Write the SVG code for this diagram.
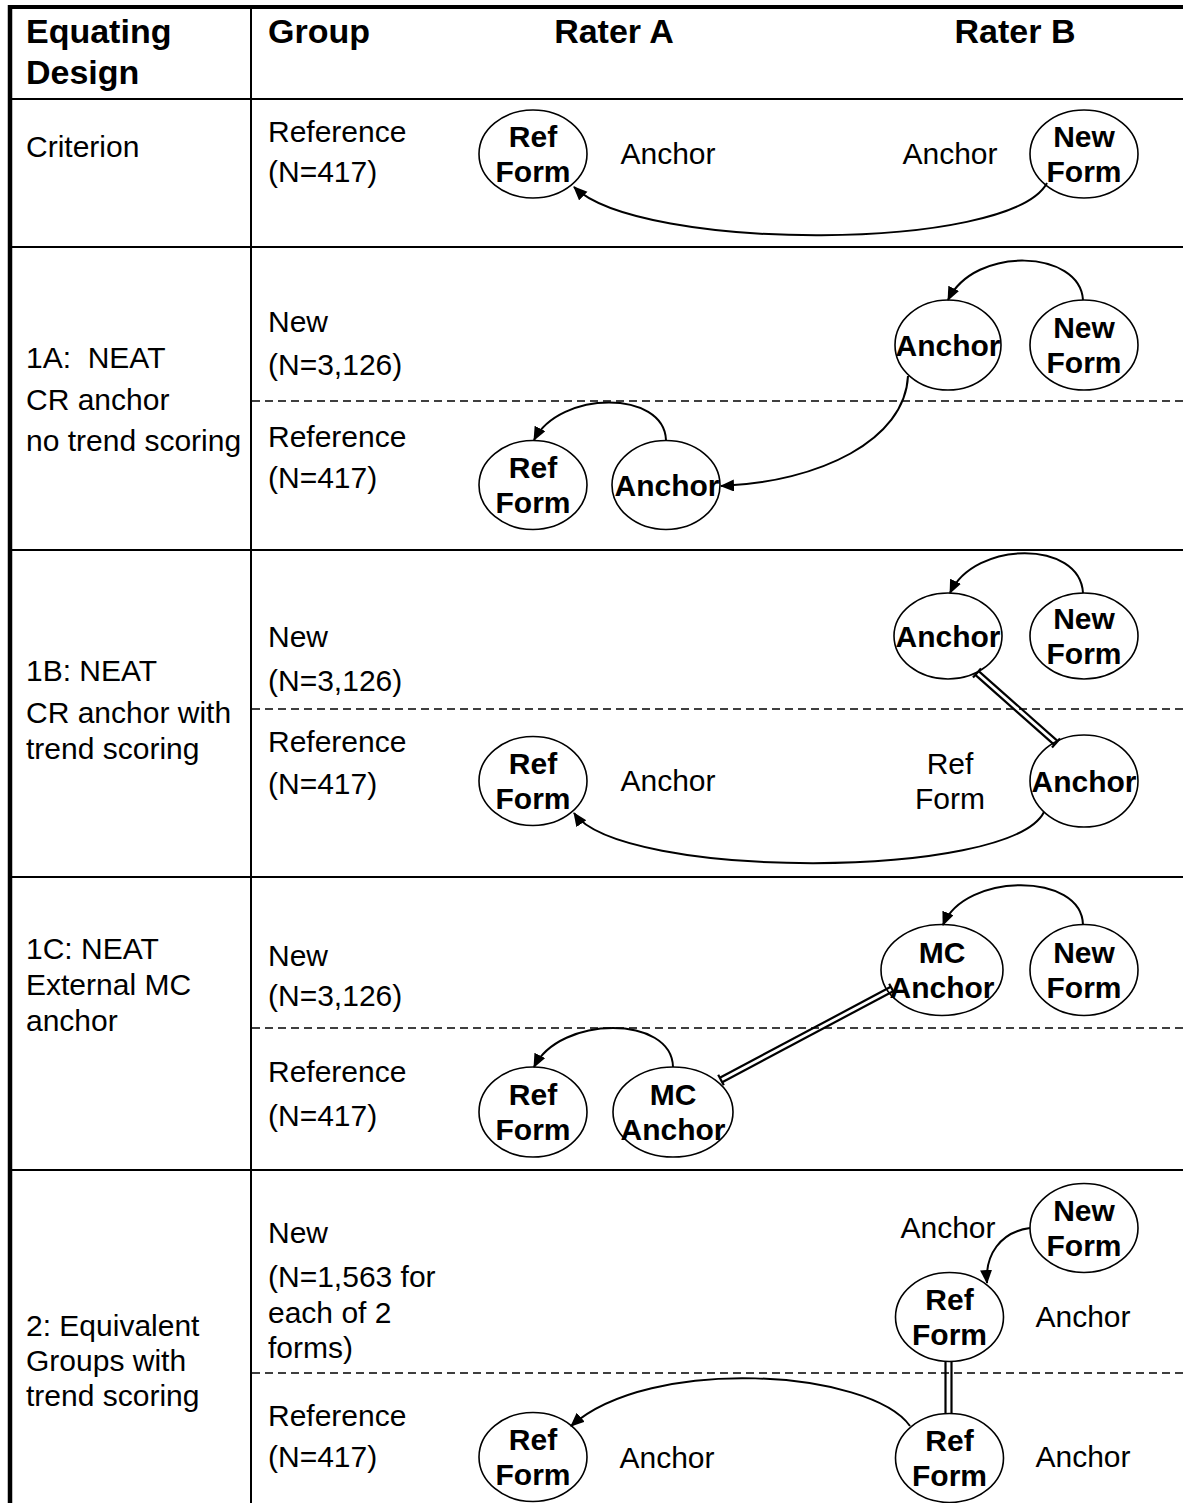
<svg xmlns="http://www.w3.org/2000/svg" width="1183" height="1503" viewBox="0 0 1183 1503">
<style>
text{font-family:"Liberation Sans",Arial,sans-serif;fill:#000}
.h{font-size:34px;font-weight:bold}
.t{font-size:30px}
.b{font-size:30px;font-weight:bold;text-anchor:middle}
.m{text-anchor:middle}
.grid{stroke:#000;stroke-width:2;fill:none}
.dash{stroke:#000;stroke-width:1.5;stroke-dasharray:8 5;fill:none}
ellipse{fill:#fff;stroke:#000;stroke-width:1.6}
.c{fill:none;stroke:#000;stroke-width:2}
.dbl{stroke:#000;stroke-width:2.2;fill:none}
</style>
<defs>
<marker id="ah" markerUnits="userSpaceOnUse" markerWidth="16" markerHeight="14" refX="13" refY="6" orient="auto">
<path d="M0,0 L14,6 L0,12 z" fill="#000"/>
</marker>
</defs>
<rect width="1183" height="1503" fill="#fff"/>
<g id="table">
<line x1="8" y1="7" x2="1183" y2="7" stroke="#000" stroke-width="4"/>
<line x1="10" y1="5" x2="10" y2="1503" stroke="#000" stroke-width="4.5"/>
<line class="grid" x1="251" y1="7" x2="251" y2="1503"/>
<line class="grid" x1="10" y1="99" x2="1183" y2="99"/>
<line class="grid" x1="10" y1="247" x2="1183" y2="247"/>
<line class="grid" x1="10" y1="550" x2="1183" y2="550"/>
<line class="grid" x1="10" y1="877" x2="1183" y2="877"/>
<line class="grid" x1="10" y1="1170" x2="1183" y2="1170"/>
<line class="dash" x1="252" y1="401" x2="1183" y2="401"/>
<line class="dash" x1="252" y1="709" x2="1183" y2="709"/>
<line class="dash" x1="252" y1="1028" x2="1183" y2="1028"/>
<line class="dash" x1="252" y1="1373" x2="1183" y2="1373"/>
</g>
<g id="header">
<text class="h" x="26" y="43">Equating</text>
<text class="h" x="26" y="84">Design</text>
<text class="h" x="268" y="43">Group</text>
<text class="h m" x="614" y="43">Rater A</text>
<text class="h m" x="1015" y="43">Rater B</text>
</g>
<g id="labels">
<text class="t" x="26" y="157">Criterion</text>
<text class="t" x="268" y="142">Reference</text>
<text class="t" x="268" y="182">(N=417)</text>
<text class="t" x="26" y="368">1A:&#160; NEAT</text>
<text class="t" x="26" y="410">CR anchor</text>
<text class="t" x="26" y="451">no trend scoring</text>
<text class="t" x="268" y="332">New</text>
<text class="t" x="268" y="375">(N=3,126)</text>
<text class="t" x="268" y="447">Reference</text>
<text class="t" x="268" y="488">(N=417)</text>
<text class="t" x="26" y="681">1B: NEAT</text>
<text class="t" x="26" y="723">CR anchor with</text>
<text class="t" x="26" y="759">trend scoring</text>
<text class="t" x="268" y="647">New</text>
<text class="t" x="268" y="691">(N=3,126)</text>
<text class="t" x="268" y="752">Reference</text>
<text class="t" x="268" y="794">(N=417)</text>
<text class="t" x="26" y="959">1C: NEAT</text>
<text class="t" x="26" y="995">External MC</text>
<text class="t" x="26" y="1031">anchor</text>
<text class="t" x="268" y="966">New</text>
<text class="t" x="268" y="1006">(N=3,126)</text>
<text class="t" x="268" y="1082">Reference</text>
<text class="t" x="268" y="1126">(N=417)</text>
<text class="t" x="26" y="1336">2: Equivalent</text>
<text class="t" x="26" y="1371">Groups with</text>
<text class="t" x="26" y="1406">trend scoring</text>
<text class="t" x="268" y="1243">New</text>
<text class="t" x="268" y="1287">(N=1,563 for</text>
<text class="t" x="268" y="1323">each of 2</text>
<text class="t" x="268" y="1358">forms)</text>
<text class="t" x="268" y="1426">Reference</text>
<text class="t" x="268" y="1467">(N=417)</text>
<text class="t m" x="668" y="164">Anchor</text>
<text class="t m" x="950" y="164">Anchor</text>
<text class="t m" x="668" y="791">Anchor</text>
<text class="t m" x="950" y="774">Ref</text>
<text class="t m" x="950" y="809">Form</text>
<text class="t m" x="948" y="1238">Anchor</text>
<text class="t m" x="1083" y="1327">Anchor</text>
<text class="t m" x="1083" y="1467">Anchor</text>
<text class="t m" x="667" y="1468">Anchor</text>
</g>
<g id="crit-ref"><ellipse cx="533" cy="154" rx="54" ry="44"/><text class="b" x="533" y="147">Ref</text><text class="b" x="533" y="182">Form</text></g>
<g id="crit-new"><ellipse cx="1084" cy="154" rx="54" ry="44"/><text class="b" x="1084" y="147">New</text><text class="b" x="1084" y="182">Form</text></g>
<g id="a1-anchorB"><ellipse cx="948" cy="345" rx="53" ry="45"/><text class="b" x="948" y="356">Anchor</text></g>
<g id="a1-new"><ellipse cx="1084" cy="345" rx="54" ry="45"/><text class="b" x="1084" y="338">New</text><text class="b" x="1084" y="373">Form</text></g>
<g id="a1-ref"><ellipse cx="533" cy="485" rx="54" ry="44.5"/><text class="b" x="533" y="478">Ref</text><text class="b" x="533" y="513">Form</text></g>
<g id="a1-anchorA"><ellipse cx="666" cy="485" rx="54" ry="44.5"/><text class="b" x="667" y="496">Anchor</text></g>
<g id="b1-anchorB"><ellipse cx="948" cy="636" rx="54" ry="43"/><text class="b" x="948" y="647">Anchor</text></g>
<g id="b1-new"><ellipse cx="1084" cy="636" rx="54" ry="43"/><text class="b" x="1084" y="629">New</text><text class="b" x="1084" y="664">Form</text></g>
<g id="b1-ref"><ellipse cx="533" cy="781" rx="54" ry="44.5"/><text class="b" x="533" y="774">Ref</text><text class="b" x="533" y="809">Form</text></g>
<g id="b1-anchorB2"><ellipse cx="1084" cy="781" rx="54" ry="46"/><text class="b" x="1084" y="792">Anchor</text></g>
<g id="c1-mcB"><ellipse cx="942" cy="970" rx="61" ry="45.5"/><text class="b" x="942" y="963">MC</text><text class="b" x="942" y="998">Anchor</text></g>
<g id="c1-new"><ellipse cx="1084" cy="970" rx="54" ry="45.5"/><text class="b" x="1084" y="963">New</text><text class="b" x="1084" y="998">Form</text></g>
<g id="c1-ref"><ellipse cx="533" cy="1112" rx="54" ry="45"/><text class="b" x="533" y="1105">Ref</text><text class="b" x="533" y="1140">Form</text></g>
<g id="c1-mcA"><ellipse cx="673" cy="1112" rx="60" ry="45"/><text class="b" x="673" y="1105">MC</text><text class="b" x="673" y="1140">Anchor</text></g>
<g id="e2-new"><ellipse cx="1084" cy="1228" rx="54" ry="44.5"/><text class="b" x="1084" y="1221">New</text><text class="b" x="1084" y="1256">Form</text></g>
<g id="e2-refB1"><ellipse cx="949.5" cy="1317" rx="54" ry="44.5"/><text class="b" x="949.5" y="1310">Ref</text><text class="b" x="949.5" y="1345">Form</text></g>
<g id="e2-refB2"><ellipse cx="949.5" cy="1458" rx="54" ry="44.5"/><text class="b" x="949.5" y="1451">Ref</text><text class="b" x="949.5" y="1486">Form</text></g>
<g id="e2-refA"><ellipse cx="533" cy="1457" rx="54" ry="44.5"/><text class="b" x="533" y="1450">Ref</text><text class="b" x="533" y="1485">Form</text></g>
<g id="connectors">
<path class="c" d="M1047,183 C1010,252 640,252 574,187" marker-end="url(#ah)"/>
<path class="c" d="M1083,300 C1080,250 975,245 948,300" marker-end="url(#ah)"/>
<path class="c" d="M666,440 C664,390 560,390 534,440" marker-end="url(#ah)"/>
<path class="c" d="M908,376 C905,440 820,482 721,486" marker-end="url(#ah)"/>
<path class="c" d="M1083,593 C1080,540 975,540 950,593" marker-end="url(#ah)"/>
<path class="c" d="M1044,812 C1010,880 620,880 574,813" marker-end="url(#ah)"/>
<path class="c" d="M1083,925 C1082,872 965,872 943,925" marker-end="url(#ah)"/>
<path class="c" d="M673,1067 C672,1015 560,1015 534,1067" marker-end="url(#ah)"/>
<path class="c" d="M1030,1228 C1000,1232 985,1255 987,1283" marker-end="url(#ah)"/>
<path class="c" d="M910,1426 C870,1370 650,1355 571,1426" marker-end="url(#ah)"/>
<g id="double-1B" class="dbl">
<line x1="975.3" y1="674.9" x2="1054.3" y2="744.9"/>
<line x1="978.7" y1="671.1" x2="1057.7" y2="741.1"/>
<line x1="973" y1="677.5" x2="981" y2="668.5"/>
<line x1="1052" y1="747.5" x2="1060" y2="738.5"/>
</g>
<g id="double-1C" class="dbl">
<line x1="722.2" y1="1082.2" x2="893.2" y2="991.2"/>
<line x1="719.8" y1="1077.8" x2="890.8" y2="986.8"/>
<line x1="723.8" y1="1085.3" x2="718.2" y2="1074.7"/>
<line x1="894.8" y1="994.3" x2="889.2" y2="983.7"/>
</g>
<g id="double-2" class="dbl">
<line x1="945.5" y1="1362" x2="945.5" y2="1413"/>
<line x1="951.5" y1="1362" x2="951.5" y2="1413"/>
</g>
</g>
</svg>
